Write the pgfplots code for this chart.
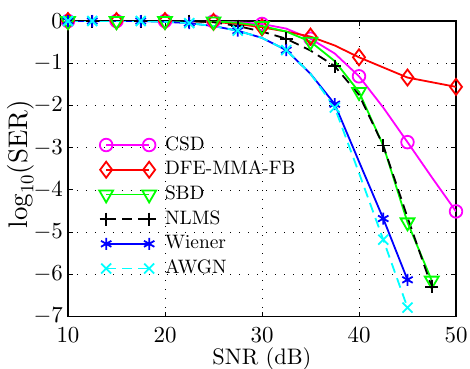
\documentclass[border=0pt]{standalone}
\usepackage[OT1]{fontenc}
\renewcommand\rmdefault{cmr}
\DeclareFontShape{OT1}{cmr}{m}{n}{<-> cmr10}{}
\DeclareFontShape{OML}{cmm}{m}{it}{<-> cmmi10}{}
\DeclareFontShape{OMS}{cmsy}{m}{n}{<-> cmsy10}{}
\DeclareFontShape{OMX}{cmex}{m}{n}{<-> cmex10}{}
\usepackage{pgfplots}
\pgfplotsset{compat=1.18}
\definecolor{mmag}{rgb}{1,0,1}
\definecolor{mred}{rgb}{1,0,0}
\definecolor{mgreen}{rgb}{0,1,0}
\definecolor{mblue}{rgb}{0,0,1}
\definecolor{mcyan}{rgb}{0,1,1}
\begin{document}
\begin{tikzpicture}
\begin{axis}[
  scale only axis,
  width=388bp, height=295.5bp,
  xmin=10, xmax=50, ymin=-7, ymax=0,
  xtick={10,20,30,40,50},
  ytick={-7,-6,-5,-4,-3,-2,-1,0},
  tick align=inside,
  major tick length=5bp,
  axis line style={line width=1.2bp},
  every tick/.style={black, line width=0.8bp},
  grid=major,
  major grid style={black, line width=0.7bp, dash pattern=on 0.7bp off 8.3bp},
  tick label style={font=\fontsize{23}{26}\selectfont, inner sep=0pt},
  yticklabel style={anchor=east, xshift=-5bp},
  xticklabel style={anchor=north, yshift=-11.5bp},
  xlabel={SNR (dB)},
  ylabel={$\log_{10}(\mathrm{SER})$},
  xlabel style={font=\fontsize{22.5}{26}\selectfont, at={(axis description cs:0.5,0)}, anchor=base, yshift=-47.5bp, inner sep=0pt},
  ylabel style={font=\fontsize{27}{30}\selectfont, at={(axis description cs:-0.1224,0.515)}, anchor=center, inner sep=0pt},
  legend cell align=left,
  legend image code/.code={\draw[#1, mark indices={1,2}] plot coordinates {(0bp,0bp) (43bp,0bp)};},
  legend style={draw=none, fill=none, at={(axis cs:13.2,-2.72)}, anchor=north west,
    inner sep=0pt, row sep=6.7bp, font=\fontsize{19.5}{20}\selectfont,
    nodes={inner sep=0pt, text height=14bp, text depth=4bp},
    /tikz/every odd column/.append style={column sep=9bp}},
]
\addplot[mmag, line width=1.8bp, mark=o, mark size=6.3bp, mark indices={1,3,5,7,9,11,13,15,17}, mark options={solid}] coordinates {
(10,0) (12.5,0) (15,0) (17.5,0) (20,0) (22.5,0) (25,-0.01) (27.5,-0.03) (30,-0.07) (32.5,-0.18) (35,-0.42) (37.5,-0.77) (40,-1.31) (42.5,-2.05) (45,-2.87) (47.5,-3.7) (50,-4.51)};
\addlegendentry{CSD}
\addplot[mred, line width=1.8bp, mark=diamond, mark size=8bp, mark indices={1,3,5,7,9,11,13,15,17}, mark options={solid}] coordinates {
(10,0) (12.5,0) (15,0) (17.5,0) (20,0) (22.5,-0.01) (25,-0.02) (27.5,-0.07) (30,-0.15) (32.5,-0.25) (35,-0.37) (37.5,-0.58) (40,-0.86) (42.5,-1.1) (45,-1.34) (47.5,-1.45) (50,-1.56)};
\addlegendentry{DFE-MMA-FB}
\addplot[mgreen, line width=1.8bp, mark=triangle, mark size=8bp, mark indices={1,3,5,7,9,11,13,15,16}, mark options={solid, rotate=180}] coordinates {
(10,0) (12.5,0) (15,0) (17.5,0) (20,0) (22.5,0) (25,-0.01) (27.5,-0.04) (30,-0.12) (32.5,-0.25) (35,-0.49) (37.5,-0.95) (40,-1.68) (42.5,-2.95) (45,-4.77) (47.5,-6.15)};
\addlegendentry{SBD}
\addplot[black, line width=1.8bp, dash pattern=on 10bp off 6bp, mark=+, mark size=6.5bp, mark indices={2,4,6,8,10,12,14,16}, mark options={solid}] coordinates {
(10,0) (12.5,0) (15,0) (17.5,0) (20,0) (22.5,0) (25,-0.03) (27.5,-0.12) (30,-0.25) (32.5,-0.42) (35,-0.7) (37.5,-1.07) (40,-1.75) (42.5,-2.95) (45,-4.65) (47.5,-6.3)};
\addlegendentry{NLMS}
\addplot[mblue, line width=1.8bp, mark=asterisk, mark size=6bp, mark indices={1,2,4,6,8,10,12,14,15}, mark options={solid}] coordinates {
(10,0) (12.5,0) (15,0) (17.5,0) (20,-0.02) (22.5,-0.05) (25,-0.12) (27.5,-0.23) (30,-0.4) (32.5,-0.69) (35,-1.25) (37.5,-1.97) (40,-3.33) (42.5,-4.68) (45,-6.13)};
\addlegendentry{Wiener}
\addplot[mcyan, line width=1.8bp, dash pattern=on 10bp off 6bp, mark=x, mark size=7bp, mark indices={1,2,4,6,8,10,12,14,15}, mark options={solid}] coordinates {
(10,0) (12.5,0) (15,0) (17.5,0) (20,-0.02) (22.5,-0.05) (25,-0.12) (27.5,-0.23) (30,-0.4) (32.5,-0.69) (35,-1.25) (37.5,-2.05) (40,-3.6) (42.5,-5.18) (45,-6.79)};
\addlegendentry{AWGN}
\end{axis}
\pgfresetboundingbox
\useasboundingbox ([xshift=-68bp,yshift=-52.5bp]current axis.south west) rectangle ([xshift=14bp,yshift=21bp]current axis.north east);
\end{tikzpicture}
\end{document}
